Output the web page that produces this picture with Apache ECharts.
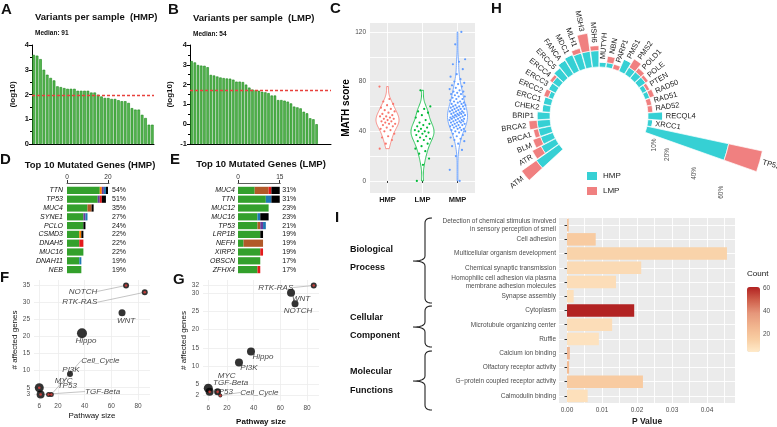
<!DOCTYPE html>
<html>
<head>
<meta charset="utf-8">
<script src="https://cdn.jsdelivr.net/npm/echarts@6/dist/echarts.min.js"></script>
<style>
html,body{margin:0;padding:0;background:#fff;}
#chart{width:777px;height:427px;}
</style>
</head>
<body>
<div id="chart"></div>
<script>
// ================= DATA =================
// A: variants per sample (HMP), log10
const hmpVariantsLog10 = [3.60,3.57,3.43,3.00,2.80,2.67,2.57,2.33,2.30,2.26,2.23,2.23,2.23,2.15,2.15,2.15,2.15,2.08,2.08,1.99,1.92,1.86,1.86,1.82,1.82,1.77,1.73,1.73,1.66,1.45,1.39,1.39,1.18,1.05,0.78,0.78];
const hmpMedian = 91;
// B: variants per sample (LMP), log10
const lmpVariantsLog10 = [3.19,3.12,2.99,2.96,2.95,2.88,2.49,2.46,2.41,2.36,2.33,2.31,2.30,2.25,2.15,2.15,2.13,2.00,1.85,1.75,1.72,1.69,1.64,1.61,1.57,1.45,1.45,1.22,1.22,1.19,1.14,1.05,0.89,0.85,0.80,0.63,0.55,0.30,0.25,0.00];
const lmpMedian = 54;

// C: MATH scores
const mathGroups = ['HMP','LMP','MMP'];
const mathHMP = [76,66,64,62,61,59,58,57,56,55,54,53,52,52,51,50,50,49,48,48,47,46,46,45,44,43,42,41,40,38,36,35,33,30,26];
const mathLMP = [73,60,58,56,55,53,51,49,47,46,45,44,43,42,41,40,40,39,38,37,36,35,34,33,32,30,28,26,24,22,18,13,0];
const mathMMP = [120,110,98,96,94,90,86,84,82,80,79,78,77,76,75,74,73,72,72,71,70,70,69,68,68,67,66,66,65,64,64,63,63,62,62,61,61,60,60,60,59,59,58,58,58,57,57,56,56,56,55,55,55,54,54,54,53,53,53,52,52,52,51,51,51,50,50,50,49,49,49,48,48,48,47,47,47,46,46,45,45,45,44,44,43,43,42,42,41,41,40,40,39,38,37,36,35,34,33,32,30,28,25,20,9,0];

// D/E: top mutated genes
const variantClasses = ['Missense_Mutation','Splice_Site','In_Frame_Del','Frame_Shift_Ins','Nonsense_Mutation','Frame_Shift_Del','Multi_Hit'];
const topGenesHMP = ['TTN','TP53','MUC4','SYNE1','PCLO','CSMD3','DNAH5','MUC16','DNAH11','NEB'];
const topPctHMP = [54,51,35,27,24,22,22,22,19,19];
const hmpMissense = [16,15,10,8,8,6,6,8,6,7];
const hmpSplice   = [1,0,0,0,0,1,0,0,0,0];
const hmpInFrDel  = [0,0,2,0,0,0,0,0,0,0];
const hmpFsIns    = [1,1,0,1,0,0,0,0,0,0];
const hmpNonsense = [0,1,0,0,0,0,2,0,0,0];
const hmpFsDel    = [1,0,0,1,0,0,0,0,1,0];
const hmpMultiHit = [1,2,1,0,1,1,0,0,0,0];
const topGenesLMP = ['MUC4','TTN','MUC12','MUC16','TP53','LRP1B','NEFH','XIRP2','OBSCN','ZFHX4'];
const topPctLMP = [31,31,23,23,21,19,19,19,17,17];
const lmpMissense = [6,10,11,7,7,8,2,8,8,7];
const lmpSplice   = [0,0,0,0,0,0,0,0,0,0];
const lmpInFrDel  = [5,0,0,0,1,0,7,0,0,0];
const lmpFsIns    = [0,0,0,0,1,0,0,0,0,0];
const lmpNonsense = [1,0,0,0,0,0,0,1,0,1];
const lmpFsDel    = [0,2,0,1,1,0,0,0,0,0];
const lmpMultiHit = [3,3,0,3,0,1,0,0,0,0];

// F/G: oncogenic pathways
const pathwaysF = ['NOTCH','RTK-RAS','WNT','Hippo','PI3K','Cell_Cycle','MYC','TP53','TGF-Beta'];
const pathwaySizeF = [71,85,68,38,29,15,13,6,7];
const affectedGenesF = [35,33,27,21,9,3,3,5,3];
const pathwaysG = ['RTK-RAS','WNT','NOTCH','Hippo','PI3K','TP53','TGF-Beta','MYC','Cell_Cycle'];
const pathwaySizeG = [85,68,71,38,29,6,7,13,15];
const affectedGenesG = [32,30,27,14,11,4,3,3,2];

// H: DNA damage repair genes, % of samples
const ddrGenes = ['ATM','ATR','BLM','BRCA1','BRCA2','BRIP1','CHEK2','ERCC1','ERCC2','ERCC3','ERCC4','ERCC5','FANCA','MDC1','MLH1','MSH3','MSH6','MUTYH','NBN','PARP1','PMS1','PMS2','POLD1','POLE','PTEN','RAD50','RAD51','RAD52','RECQL4','XRCC1','TP53'];
const ddrHMP = [17,10,8,8,8,8,5,5,3,5,5,8,10,11,10,10,10,3,3,0,8,5,5,5,3,3,0,0,9,3,51];
const ddrLMP = [11,6,5,3,5,0,0,0,3,0,2,0,0,0,3,11,3,0,4,3,0,6,3,2,2,3,3,3,0,0,21];
const ddrRadiusTicks = [5,10,20,40,60];

// I: GO enrichment
const goTerms = ['Detection of chemical stimulus involved\nin sensory perception of smell','Cell adhesion','Multicellular organism development','Chemical synaptic transmission','Homophilic cell adhesion via plasma\nmembrane adhesion molecules','Synapse assembly','Cytoplasm','Microtubule organizing center','Ruffle','Calcium ion binding','Olfactory receptor activity','G\u2212protein coupled receptor activity','Calmodulin binding'];
const goPValue = [0.0005,0.0082,0.0457,0.0212,0.0140,0.0019,0.0192,0.0129,0.0091,0.0008,0.0006,0.0217,0.0059];
const goCount = [20,17,14,11,10,9,61,10,8,26,24,17,9];
const goGroups = [['Biological','Process'],['Cellular','Component'],['Molecular','Functions']];
const pTicks = [0,0.01,0.02,0.03,0.04];
const pGrid = [0,0.005,0.01,0.015,0.02,0.025,0.03,0.035,0.04,0.045];
const countTicks = [20,40,60];

// ================= STYLE =================
const FONT = '"Liberation Sans", Arial, Helvetica, sans-serif';
const classColors = ['#33A02C','#FF7F00','#B15928','#6A3D9A','#E31A1C','#1F78B4','#000000'];
const violinColors = ['#F8766D','#00BA38','#619CFF'];
const violinHalfWidth = [11.5,11.5,10];
const teal = '#36D0D4', coral = '#F08080';
const barGreen = '#55B64F', barGreenEdge = '#1B881B';
const fSymbol = [6,6,7,10,6,5,5,9,8];
const fRed = [1,1,0,0,0,1,1,1,1];
const fOffset = [[-43,6],[-65,10],[4,8],[4,8],[1,-4],[49,-34],[15,-14],[28,-2],[62,-3]];
const fLine = [1,1,0,0,0,1,0,0,1];
const gSymbol = [6,8,7,8,8,9,8,7,4];
const gRed = [1,0,0,0,0,0,1,1,1];
const gOffset = [[-38,2],[10,6],[3,7],[12,5],[10,5],[15,4],[21,-9],[9,-16],[39,-3]];
const gLine = [1,0,0,0,0,0,0,0,1];
const lmpPadSlots = 4;
const ddrGapBefore = 13, ddrGapAfter = 2;

// ================= HELPERS =================
const mathData = [mathHMP, mathLMP, mathMMP];
function bwNrd0(arr){
  const n = arr.length, m = arr.reduce((a,b)=>a+b,0)/n;
  const sd = Math.sqrt(arr.reduce((a,b)=>a+(b-m)*(b-m),0)/(n-1));
  const s = arr.slice().sort((a,b)=>a-b);
  const q = p => { const h=(n-1)*p, lo=Math.floor(h); return s[lo]+(h-lo)*(s[Math.min(lo+1,n-1)]-s[lo]); };
  const iqr = q(0.75)-q(0.25);
  return 0.9*Math.min(sd, iqr/1.34)*Math.pow(n,-0.2);
}
function dens(arr,bw,y){ let s=0; for(const v of arr){const u=(y-v)/bw; s+=Math.exp(-0.5*u*u);} return s/(arr.length*bw*Math.sqrt(2*Math.PI)); }

function violinRender(params, api){
  const g = api.value(0);
  const vals = mathData[g], bw = bwNrd0(vals);
  const lo = Math.min(...vals), hi = Math.max(...vals);
  const N = 80, ys=[], ds=[];
  for(let k=0;k<=N;k++){ const y=lo+(hi-lo)*k/N; ys.push(y); ds.push(dens(vals,bw,y)); }
  const dmax = Math.max(...ds);
  const L=[], R=[];
  for(let k=0;k<=N;k++){ const p=api.coord([g,ys[k]]); const w=violinHalfWidth[g]*ds[k]/dmax; L.push([p[0]-w,p[1]]); R.push([p[0]+w,p[1]]); }
  return {type:'polygon', shape:{points:L.concat(R.reverse())}, style:{fill:'#fff', stroke:violinColors[g], lineWidth:0.8}};
}
const mathPoints = [];
mathData.forEach((arr,g)=>arr.forEach((v,i)=>mathPoints.push([g,v,i])));
function pointRender(params, api){
  const g=api.value(0), v=api.value(1), i=api.value(2);
  const p=api.coord([g,v]);
  const j=(((i*0.6180339887)+g*0.37)%1-0.5)*16;
  return {type:'circle', shape:{cx:p[0]+j, cy:p[1], r:1.1}, style:{fill:violinColors[g]}};
}
function geneLabelRender(params, api){
  const tot=api.value(0), idx=api.value(1);
  const p=api.coord([tot, idx]);
  const cs=params.coordSys;
  const dx=p[0]-cs.cx, dy=p[1]-cs.cy, len=Math.hypot(dx,dy)||1;
  const x=p[0]+dx/len*3, y=p[1]+dy/len*3;
  const th=Math.atan2(-dy,dx), right=dx>=0;
  return {type:'text', x, y, rotation: right?th:th-Math.PI,
    style:{text:ddrGenes[params.dataIndex], align:right?'left':'right', verticalAlign:'middle', fill:'#1a1a1a', font:'7.5px '+FONT}};
}
function txt(x,y,text,size,weight,align,color){
  return {type:'text', x, y, silent:true, z:100,
    style:{text, fill:color||'#111', font:(weight||'normal')+' '+size+'px '+FONT, align:align||'left', verticalAlign:'middle'}};
}
function quad(p0,p1,p2,n){ const out=[]; for(let k=0;k<=n;k++){const t=k/n,a=(1-t)*(1-t),b=2*(1-t)*t,c=t*t; out.push([a*p0[0]+b*p1[0]+c*p2[0], a*p0[1]+b*p1[1]+c*p2[1]]);} return out; }
function brace(y1,ym,y2){
  const x=425, tip=413, end=432;
  const pts = [].concat(
    quad([end,y1],[x,y1],[x,y1+5],6),
    quad([x,ym-5],[x,ym],[tip,ym],6),
    quad([tip,ym],[x,ym],[x,ym+5],6),
    quad([x,y2-5],[x,y2],[end,y2],6));
  return {type:'polyline', silent:true, z:100, shape:{points:pts}, style:{stroke:'#222', fill:null, lineWidth:1.1}};
}

// ================= OPTION =================
const hmpClasses = [hmpMissense,hmpSplice,hmpInFrDel,hmpFsIns,hmpNonsense,hmpFsDel,hmpMultiHit];
const lmpClasses = [lmpMissense,lmpSplice,lmpInFrDel,lmpFsIns,lmpNonsense,lmpFsDel,lmpMultiHit];
const lmpAxisMin = -1;
const angleCats = [];
for(let i=0;i<ddrGapBefore;i++) angleCats.push('gapA'+i);
ddrGenes.forEach(g=>angleCats.push(g));
for(let i=0;i<ddrGapAfter;i++) angleCats.push('gapB'+i);
const padDDR = arr => angleCats.map(c => { const k=ddrGenes.indexOf(c); return k<0?'-':arr[k]; });

const axisLblBold = {fontSize:7.5, fontWeight:'bold', color:'#111', margin:3, fontFamily:FONT};
const ggLbl = {fontSize:6.5, color:'#4d4d4d', fontFamily:FONT};

const series = [];
// A
series.push({type:'bar', xAxisIndex:0, yAxisIndex:0, data:hmpVariantsLog10, barCategoryGap:'22%',
  itemStyle:{color:barGreen, borderColor:barGreenEdge, borderWidth:0.6},
  markLine:{silent:true, symbol:'none', label:{show:false}, lineStyle:{color:'#E8413C', type:[3,2], width:1.3},
    data:[{yAxis:Math.log10(hmpMedian)}]}});
// B
const lmpBars = lmpVariantsLog10.map(v=>v-lmpAxisMin);
for(let i=0;i<lmpPadSlots;i++) lmpBars.push('-');
series.push({type:'bar', xAxisIndex:1, yAxisIndex:2, data:lmpBars, barCategoryGap:'22%',
  itemStyle:{color:barGreen, borderColor:barGreenEdge, borderWidth:0.6},
  markLine:{silent:true, symbol:'none', label:{show:false}, lineStyle:{color:'#E8413C', type:[3,2], width:1.3},
    data:[{yAxis:Math.log10(lmpMedian)-lmpAxisMin}]}});
// C
series.push({type:'custom', xAxisIndex:2, yAxisIndex:3, data:[[0,0],[1,0],[2,0]], encode:{x:0,y:1}, renderItem:violinRender, silent:true, z:2});
series.push({type:'custom', xAxisIndex:2, yAxisIndex:3, data:mathPoints, encode:{x:0,y:1}, renderItem:pointRender, silent:true, z:3});
// D, E
variantClasses.forEach((c,k)=>{
  series.push({type:'bar', name:c, stack:'D', xAxisIndex:3, yAxisIndex:4, data:hmpClasses[k], barCategoryGap:'18%', itemStyle:{color:classColors[k]}});
});
variantClasses.forEach((c,k)=>{
  series.push({type:'bar', name:c, stack:'E', xAxisIndex:4, yAxisIndex:6, data:lmpClasses[k], barCategoryGap:'18%', itemStyle:{color:classColors[k]}});
});
// F, G
function pathwaySeries(names,sizes,aff,sym,off,line,xi,yi){
  return {type:'scatter', xAxisIndex:xi, yAxisIndex:yi, z:3,
    data:names.map((n,i)=>({name:n, value:[sizes[i],aff[i]], symbolSize:sym[i], labelLine:{show:!!line[i]}})),
    itemStyle:{color:'#000'},
    label:{show:true, position:'inside', formatter:'{b}', fontSize:8, fontStyle:'italic', color:'#111', fontFamily:FONT},
    labelLine:{lineStyle:{color:'#aaa', width:0.7}},
    labelLayout:(p)=>({dx:off[p.dataIndex][0], dy:off[p.dataIndex][1]})};
}
function redSeries(names,sizes,aff,red,xi,yi){
  const d=[]; names.forEach((n,i)=>{ if(red[i]) d.push([sizes[i],aff[i]]); });
  return {type:'scatter', xAxisIndex:xi, yAxisIndex:yi, z:4, symbolSize:2.6, itemStyle:{color:'#E8413C'}, data:d, silent:true};
}
series.push(pathwaySeries(pathwaysF,pathwaySizeF,affectedGenesF,fSymbol,fOffset,fLine,5,8));
series.push(redSeries(pathwaysF,pathwaySizeF,affectedGenesF,fRed,5,8));
series.push(pathwaySeries(pathwaysG,pathwaySizeG,affectedGenesG,gSymbol,gOffset,gLine,6,9));
series.push(redSeries(pathwaysG,pathwaySizeG,affectedGenesG,gRed,6,9));
// H
series.push({type:'bar', name:'HMP', coordinateSystem:'polar', stack:'ddr', data:padDDR(ddrHMP), barCategoryGap:'6%', itemStyle:{color:teal, borderColor:'#fff', borderWidth:0.7}});
series.push({type:'bar', name:'LMP', coordinateSystem:'polar', stack:'ddr', data:padDDR(ddrLMP), barCategoryGap:'6%', itemStyle:{color:coral, borderColor:'#fff', borderWidth:0.7}});
series.push({type:'custom', coordinateSystem:'polar', data:ddrGenes.map((g,i)=>[ddrHMP[i]+ddrLMP[i], g]), encode:{radius:0, angle:1}, renderItem:geneLabelRender, silent:true});
// I
const iSeriesIndex = series.length;
series.push({type:'bar', xAxisIndex:7, yAxisIndex:10, data:goTerms.map((t,i)=>[goPValue[i], t, goCount[i]]), encode:{x:0,y:1}, barCategoryGap:'12%'});

// axes
const xAxis = [
  {type:'category', gridIndex:0, data:hmpVariantsLog10.map((_,i)=>String(i+1)), axisLine:{onZero:false, lineStyle:{color:'#000',width:1}}, axisTick:{show:false}, axisLabel:{show:false}},
  {type:'category', gridIndex:1, data:lmpBars.map((_,i)=>String(i+1)), axisLine:{onZero:false, lineStyle:{color:'#000',width:1}}, axisTick:{show:false}, axisLabel:{show:false}},
  {type:'category', gridIndex:2, data:mathGroups, axisLine:{show:false}, axisTick:{show:true, alignWithLabel:true, length:2, lineStyle:{color:'#333'}},
    axisLabel:{fontSize:7.5, fontWeight:'bold', color:'#1a1a1a', margin:3}, splitLine:{show:true, alignWithLabel:true, lineStyle:{color:'#fff', width:0.9}}},
  {type:'value', gridIndex:3, position:'top', offset:3, min:0, max:20.5, axisLine:{show:true, onZero:false, lineStyle:{color:'#333', width:0.8}},
    axisTick:{show:true, customValues:[0,20], length:3, lineStyle:{color:'#333'}}, axisLabel:Object.assign({customValues:[0,20], margin:2}, ggLbl, {color:'#333'}), splitLine:{show:false}},
  {type:'value', gridIndex:4, position:'top', offset:3, min:0, max:15.2, axisLine:{show:true, onZero:false, lineStyle:{color:'#333', width:0.8}},
    axisTick:{show:true, customValues:[0,15], length:3, lineStyle:{color:'#333'}}, axisLabel:Object.assign({customValues:[0,15], margin:2}, ggLbl, {color:'#333'}), splitLine:{show:false}},
  {type:'value', gridIndex:5, min:2.05, max:88.95, axisLine:{show:false}, axisTick:{show:false, customValues:[6,20,40,60,80]},
    axisLabel:Object.assign({customValues:[6,20,40,60,80], margin:3}, ggLbl), splitLine:{show:true, lineStyle:{color:'#ececec', width:0.8}},
    name:'Pathway size', nameLocation:'middle', nameGap:12, nameTextStyle:{fontSize:8, color:'#111', fontFamily:FONT}},
  {type:'value', gridIndex:6, min:2.05, max:88.95, axisLine:{show:false}, axisTick:{show:false, customValues:[6,20,40,60,80]},
    axisLabel:Object.assign({customValues:[6,20,40,60,80], margin:4}, ggLbl), splitLine:{show:true, lineStyle:{color:'#ececec', width:0.8}},
    name:'Pathway size', nameLocation:'middle', nameGap:17, nameTextStyle:{fontSize:8, fontWeight:'bold', color:'#111', fontFamily:FONT}},
  {type:'value', gridIndex:7, min:-0.00229, max:0.048, axisLine:{show:false}, axisTick:{show:false, customValues:pGrid},
    axisLabel:Object.assign({customValues:pTicks, margin:4, formatter:v=>v.toFixed(2)}, ggLbl), splitLine:{show:true, customValues:pGrid, lineStyle:{color:'#fff', width:0.9}},
    name:'P Value', nameLocation:'middle', nameGap:14, nameTextStyle:{fontSize:8.5, fontWeight:'bold', color:'#222', fontFamily:FONT}}
];
const yAxis = [
  {type:'value', gridIndex:0, min:0, max:4, interval:1, axisLine:{show:true, onZero:false, lineStyle:{color:'#000'}}, axisTick:{show:true, length:3, lineStyle:{color:'#000'}},
    minorTick:{show:true, splitNumber:2, length:2, lineStyle:{color:'#000'}}, axisLabel:axisLblBold, splitLine:{show:false},
    name:'(log10)', nameLocation:'middle', nameGap:15, nameTextStyle:{fontSize:8, fontWeight:'bold', color:'#111', fontFamily:FONT}},
  {type:'value', gridIndex:1, min:-1, max:4, interval:1, axisLine:{show:true, onZero:false, lineStyle:{color:'#000'}}, axisTick:{show:true, length:3, lineStyle:{color:'#000'}},
    minorTick:{show:true, splitNumber:2, length:2, lineStyle:{color:'#000'}}, axisLabel:axisLblBold, splitLine:{show:false},
    name:'(log10)', nameLocation:'middle', nameGap:16, nameTextStyle:{fontSize:8, fontWeight:'bold', color:'#111', fontFamily:FONT}},
  {type:'value', gridIndex:1, min:0, max:5, show:false},
  {type:'value', gridIndex:2, min:-9.7, max:127.2, axisLine:{show:false}, axisTick:{show:false, customValues:[0,20,40,60,80,100,120]},
    axisLabel:Object.assign({customValues:[0,40,80,120], margin:4}, ggLbl), splitLine:{show:true, customValues:[0,20,40,60,80,100,120], lineStyle:{color:'#fff', width:0.9}},
    name:'MATH score', nameLocation:'middle', nameGap:17, nameTextStyle:{fontSize:10, fontWeight:'bold', color:'#000', fontFamily:FONT}},
  {type:'category', gridIndex:3, inverse:true, data:topGenesHMP, axisLine:{show:false}, axisTick:{show:false}, axisLabel:{interval:0, fontSize:7, fontStyle:'italic', color:'#111', margin:4}},
  {type:'category', gridIndex:3, inverse:true, position:'right', data:topPctHMP.map(v=>v+'%'), axisLine:{show:false}, axisTick:{show:false}, axisLabel:{interval:0, fontSize:7, color:'#111', margin:3}},
  {type:'category', gridIndex:4, inverse:true, data:topGenesLMP, axisLine:{show:false}, axisTick:{show:false}, axisLabel:{interval:0, fontSize:7, fontStyle:'italic', color:'#111', margin:3}},
  {type:'category', gridIndex:4, inverse:true, position:'right', data:topPctLMP.map(v=>v+'%'), axisLine:{show:false}, axisTick:{show:false}, axisLabel:{interval:0, fontSize:7, color:'#111', margin:2}},
  {type:'value', gridIndex:5, min:1.4, max:36.6, axisLine:{show:false}, axisTick:{show:false, customValues:[3,5,10,15,20,25,30,35]},
    axisLabel:Object.assign({customValues:[3,5,10,15,20,25,30,35], margin:4}, ggLbl), splitLine:{show:true, lineStyle:{color:'#ececec', width:0.8}},
    name:'# affected genes', nameLocation:'middle', nameGap:15, nameTextStyle:{fontSize:8, color:'#111', fontFamily:FONT}},
  {type:'value', gridIndex:6, min:0.5, max:33.5, axisLine:{show:false}, axisTick:{show:false, customValues:[2,5,10,15,20,25,30,32]},
    axisLabel:Object.assign({customValues:[2,5,10,15,20,25,30,32], margin:4}, ggLbl), splitLine:{show:true, lineStyle:{color:'#ececec', width:0.8}},
    name:'# affected genes', nameLocation:'middle', nameGap:14, nameTextStyle:{fontSize:8, color:'#111', fontFamily:FONT}},
  {type:'category', gridIndex:7, inverse:true, data:goTerms, axisLine:{show:false}, axisTick:{show:true, alignWithLabel:true, length:2.5, lineStyle:{color:'#333'}},
    axisLabel:{interval:0, fontSize:6.5, color:'#4d4d4d', margin:3, lineHeight:7.5, fontFamily:FONT}, splitLine:{show:true, alignWithLabel:true, lineStyle:{color:'#fff', width:0.9}}}
];

// graphic texts
const graphic = [
  txt(1,10,'A',15,'bold'), txt(168,10,'B',15,'bold'), txt(330,9,'C',15,'bold'), txt(491,9,'H',15,'bold'),
  txt(0,160,'D',15,'bold'), txt(170,160,'E',15,'bold'), txt(0,278,'F',15,'bold'), txt(173,280,'G',15,'bold'), txt(335,218,'I',15,'bold'),
  txt(35,17,'Variants per sample  (HMP)',9.5,'bold'), txt(35,33,'Median: '+hmpMedian,6.5,'bold'),
  txt(193,18,'Variants per sample  (LMP)',9.5,'bold'), txt(193,34,'Median: '+lmpMedian,6.5,'bold'),
  txt(90,165,'Top 10 Mutated Genes (HMP)',9.5,'bold','center'), txt(261,164,'Top 10 Mutated Genes (LMP)',9.5,'bold','center'),
  txt(747,274,'Count',8,'normal'),
  brace(218,261,303), brace(306,327,347), brace(351,381,410)
];
const groupY = [[250,268],[318,336],[372,391]];
goGroups.forEach((g,i)=>{ graphic.push(txt(350,groupY[i][0],g[0],9,'bold')); graphic.push(txt(350,groupY[i][1],g[1],9,'bold')); });
const cbTop=287, cbH=65, cbMin=5, cbMax=61;
countTicks.forEach(v=>graphic.push(txt(763, cbTop+(cbMax-v)/(cbMax-cbMin)*cbH, String(v), 6.5, 'normal','left','#4d4d4d')));

const option = {
  animation:false,
  backgroundColor:'#fff',
  textStyle:{fontFamily:FONT},
  grid:[
    {left:32, top:45, width:122, height:99},
    {left:190, top:45, width:141, height:99},
    {left:370, top:23, width:105, height:170, show:true, backgroundColor:'#EBEBEB', borderWidth:0},
    {left:67, top:186, width:42, height:88},
    {left:238, top:186, width:42.3, height:88},
    {left:34, top:280, width:116, height:120},
    {left:203, top:280, width:116, height:123},
    {left:559, top:218, width:176, height:190, show:true, backgroundColor:'#EBEBEB', borderWidth:0}
  ],
  xAxis, yAxis,
  polar:{center:[599,116], radius:[49,172]},
  angleAxis:{type:'category', data:angleCats, startAngle:324.65, clockwise:true, axisLine:{show:false}, axisTick:{show:false}, axisLabel:{show:false}, splitLine:{show:false}},
  radiusAxis:{type:'value', min:0, max:75, axisLine:{show:false}, axisTick:{show:false}, splitLine:{show:false},
    axisLabel:{customValues:ddrRadiusTicks, formatter:v=>v+'%', fontSize:6.5, color:'#4d4d4d', rotate:90, margin:3}},
  legend:{data:['HMP','LMP'], left:585, top:170, orient:'vertical', itemWidth:12, itemHeight:10, itemGap:3, icon:'rect', padding:0, selectedMode:false,
    textStyle:{fontSize:8, color:'#1a1a1a', fontFamily:FONT}},
  visualMap:{type:'continuous', seriesIndex:iSeriesIndex, dimension:2, min:cbMin, max:cbMax, left:747, top:cbTop, itemWidth:13, itemHeight:cbH,
    calculable:false, padding:0, orient:'vertical',
    inRange:{color:['#FFEAC9','#F8CDA2','#F1B48E','#E5967A','#CF5F4B','#B22222']}},
  graphic,
  series
};
const chart = echarts.init(document.getElementById('chart'), null, {renderer:'canvas'});
chart.setOption(option);
</script>
</body>
</html>
